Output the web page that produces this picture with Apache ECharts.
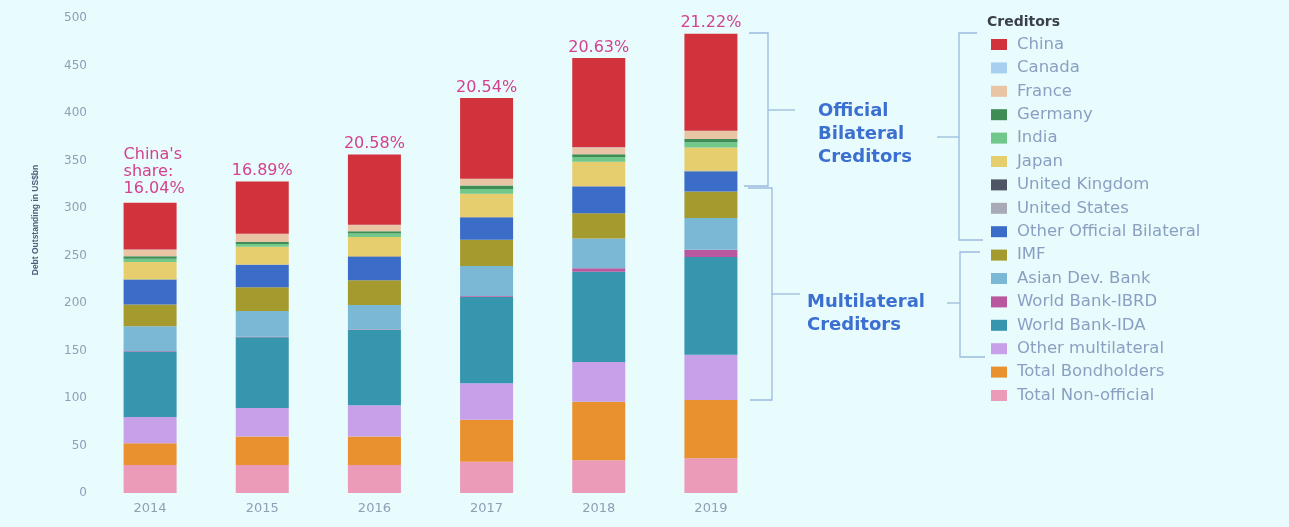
<!DOCTYPE html>
<html>
<head>
<meta charset="utf-8">
<script src="https://cdn.jsdelivr.net/npm/echarts@6/dist/echarts.min.js"></script>
<style>
html,body{margin:0;padding:0;background:#e8fbfd;}
#debtChart{width:1289px;height:527px;}
</style>
</head>
<body>
<div id="debtChart"></div>
<script>
var years = ['2014', '2015', '2016', '2017', '2018', '2019'];
var yTicks = [0, 50, 100, 150, 200, 250, 300, 350, 400, 450, 500];

// stacked from the bottom up
var nonOfficial    = [29.5, 29.5, 29.5, 33, 34.5, 36.5];
var bondholders    = [23, 30, 30, 44, 61.5, 61.5];
var otherMulti     = [27.5, 30, 33, 38.5, 42, 47.5];
var wbIda          = [69, 74.5, 79, 91, 95, 103];
var wbIbrd         = [0.5, 0.5, 0.5, 1, 3.5, 7.5];
var asianDevBank   = [26, 27, 26, 31.5, 31.5, 33.5];
var imf            = [23, 25, 26, 27.5, 26.5, 28];
var otherBilateral = [26, 23.5, 24.5, 23.5, 28, 21];
var unitedStates   = [0.3, 0.3, 0.3, 0.3, 0.3, 0.3];
var unitedKingdom  = [0.3, 0.3, 0.3, 0.3, 0.3, 0.3];
var japan          = [18, 18.5, 20.5, 24.5, 25.5, 24.5];
var india          = [3.5, 3, 3.5, 5, 5, 5.5];
var germany        = [2.5, 2, 2.5, 3.5, 3, 3.5];
var france         = [7, 8.5, 6.5, 7, 7, 8.5];
var canada         = [0.3, 0.3, 0.3, 0.3, 0.3, 0.3];
var china          = [49, 55, 74, 85, 94, 102];

var chinaShare = ["China's\nshare:\n16.04%", '16.89%', '20.58%', '20.54%', '20.63%', '21.22%'];

var stackNames = ['Total Non-official', 'Total Bondholders', 'Other multilateral', 'World Bank-IDA',
	'World Bank-IBRD', 'Asian Dev. Bank', 'IMF', 'Other Official Bilateral', 'United States',
	'United Kingdom', 'Japan', 'India', 'Germany', 'France', 'Canada', 'China'];
var stackValues = [nonOfficial, bondholders, otherMulti, wbIda, wbIbrd, asianDevBank, imf, otherBilateral,
	unitedStates, unitedKingdom, japan, india, germany, france, canada, china];
var stackColors = ['#eb9bb8', '#e8912e', '#c6a1ea', '#3696ad', '#b9589e', '#7bb8d6', '#a59a2d', '#3a6cc8',
	'#a8aab8', '#4f5565', '#e6cd6e', '#72c88a', '#3f8c55', '#e9c5a5', '#a8d0ee', '#d2323c'];

var debtChart = echarts.init(document.getElementById('debtChart'));

var series = [];
for (var i = 0; i < stackNames.length; i++) {
	var s = {
		name: stackNames[i],
		type: 'bar',
		stack: 'debt',
		barWidth: 53,
		itemStyle: { color: stackColors[i] },
		data: stackValues[i]
	};
	if (stackNames[i] == 'China') {
		s.data = china.map(function (v, k) {
			if (k == 0) {
				return { value: v, label: { position: [0, -6], align: 'left', verticalAlign: 'bottom' } };
			}
			return v;
		});
		s.label = {
			show: true,
			position: 'top',
			distance: 2,
			color: '#d4418e',
			fontFamily: 'DejaVu Sans',
			fontSize: 16,
			lineHeight: 17,
			formatter: function (p) { return chinaShare[p.dataIndex]; }
		};
	}
	series.push(s);
}

var lineStyle = { stroke: '#9bbbdc', lineWidth: 1.3, fill: null };
function brace(points) {
	return { type: 'polyline', shape: { points: points }, style: lineStyle, silent: true };
}
var groupText = { fill: '#3b6fd0', fontFamily: 'DejaVu Sans', fontWeight: 'bold', fontSize: 18, lineHeight: 23 };

var option = {
	backgroundColor: '#e8fbfd',
	animation: false,
	grid: { left: 94, right: 522, top: 18, bottom: 34 },
	legend: {
		orient: 'vertical',
		left: 991,
		top: 36,
		padding: 0,
		itemWidth: 16,
		itemHeight: 11,
		itemGap: 6.4,
		icon: 'rect',
		data: stackNames.slice().reverse(),
		textStyle: { color: '#8aa0c2', fontFamily: 'DejaVu Sans', fontSize: 16.5, lineHeight: 17, padding: [0, 0, 0, 5] }
	},
	xAxis: {
		type: 'category',
		data: years,
		axisLine: { show: false },
		axisTick: { show: false },
		axisLabel: { color: '#8e9fb6', fontFamily: 'DejaVu Sans', fontSize: 13, margin: 9 }
	},
	yAxis: {
		type: 'value',
		min: yTicks[0],
		max: yTicks[yTicks.length - 1],
		interval: 50,
		splitLine: { show: false },
		axisLine: { show: false },
		axisTick: { show: false },
		axisLabel: { color: '#8e9fb6', fontFamily: 'DejaVu Sans', fontSize: 12, margin: 7 }
	},
	graphic: [
		{ type: 'text', x: 36, y: 220, rotation: Math.PI / 2, style: {
			text: 'Debt Outstanding in US$bn', fill: '#4d5d7a', fontFamily: 'Liberation Sans',
			fontWeight: 'bold', fontSize: 8.5, align: 'center', verticalAlign: 'middle' } },
		{ type: 'text', left: 987, top: 15, style: {
			text: 'Creditors', fill: '#3a3f4a', fontFamily: 'DejaVu Sans', fontWeight: 'bold', fontSize: 14 } },
		{ type: 'text', left: 818, top: 100, style: Object.assign({ text: 'Official\nBilateral\nCreditors' }, groupText) },
		{ type: 'text', left: 807, top: 291, style: Object.assign({ text: 'Multilateral\nCreditors' }, groupText) },
		brace([[749, 33], [768, 33], [768, 186], [744, 186]]),
		brace([[768, 110], [795, 110]]),
		brace([[748, 188], [772, 188], [772, 400], [750, 400]]),
		brace([[772, 294], [800, 294]]),
		brace([[977, 33], [959, 33], [959, 240], [983, 240]]),
		brace([[937, 137], [959, 137]]),
		brace([[980, 252], [960, 252], [960, 357], [985, 357]]),
		brace([[947, 303], [960, 303]])
	],
	series: series
};
debtChart.setOption(option);
</script>
</body>
</html>
